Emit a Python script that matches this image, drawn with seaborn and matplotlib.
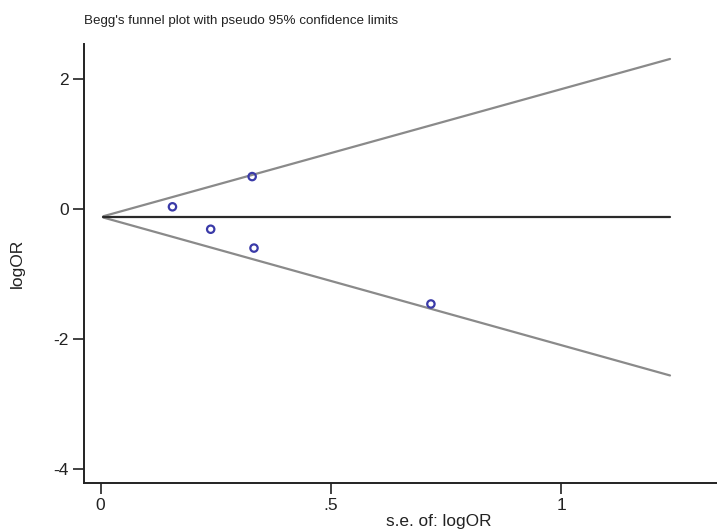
import matplotlib
matplotlib.use("Agg")
import matplotlib.pyplot as plt
import seaborn as sns
import pandas as pd

# study points
se_logor = [0.156, 0.239, 0.329, 0.333, 0.717]
logor = [0.035, -0.31, 0.50, -0.60, -1.46]

# pseudo 95% limits and pooled estimate (end points)
limit_se = [0.006, 1.236]
upper_limit = [-0.11, 2.31]
lower_limit = [-0.13, -2.56]
pooled = [-0.12, -0.12]

xticks = [0, 0.5, 1]
xtick_labels = ["0", ".5", "1"]
yticks = [-4, -2, 0, 2]

sns.set_style("white")
plt.rcParams['font.family'] = ['Liberation Sans', 'DejaVu Sans']
plt.rcParams['axes.unicode_minus'] = False

fig = plt.figure(figsize=(7.17, 5.31), dpi=100)
ax = fig.add_axes([84 / 717, 1 - 482.7 / 531, 1 - 84 / 717, (482.7 - 44) / 531])

lim = pd.DataFrame({"se": limit_se * 2,
                    "y": upper_limit + lower_limit,
                    "side": ["upper"] * 2 + ["lower"] * 2})
sns.lineplot(data=lim, x="se", y="y", units="side", estimator=None,
             color="#8a8a8a", linewidth=1.6, ax=ax)
sns.lineplot(x=limit_se, y=pooled, color="#2a2a2a", linewidth=1.6, ax=ax)

pts = pd.DataFrame({"se": se_logor, "logor": logor})
sns.scatterplot(data=pts, x="se", y="logor", marker="o", s=28,
                facecolor="none", edgecolor="#3a3aa8", linewidth=1.6, ax=ax,
                zorder=5)

ax.set_xlim(-0.036, 1.338)
ax.set_ylim(-4.21, 2.54)
ax.set_xticks(xticks)
ax.set_xticklabels(xtick_labels)
ax.set_yticks(yticks)
ax.tick_params(axis="both", direction="out", length=8, width=1.2,
               color="#222222", labelsize=12.5, labelcolor="#222222", pad=3,
               bottom=True, left=True)

for side in ["top", "right"]:
    ax.spines[side].set_visible(False)
for side in ["left", "bottom"]:
    ax.spines[side].set_color("#222222")
    ax.spines[side].set_linewidth(1.4)

ax.set_xlabel("s.e. of: logOR", fontsize=12.4, color="#222222")
ax.xaxis.set_label_coords((439 - 84) / (717 - 84), -0.072)
ax.set_ylabel("logOR", fontsize=12.5, color="#222222")
ax.yaxis.set_label_coords(-0.094, 0.5)

fig.text(84 / 717, 1 - 21 / 531, "Begg's funnel plot with pseudo 95% confidence limits",
         fontsize=9.6, color="#222222", ha="left", va="center")

fig.savefig("out.png", dpi=100)
